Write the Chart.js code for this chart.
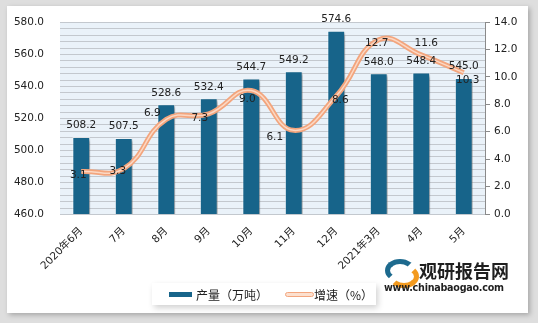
<!DOCTYPE html>
<html>
<head>
<meta charset="utf-8">
<script src="https://cdn.jsdelivr.net/npm/chart.js@4/dist/chart.umd.min.js"></script>
<style>
  body { margin: 0; width: 538px; height: 323px; background: #dedede; position: relative; overflow: hidden; font-family: "DejaVu Sans", "Noto Sans CJK SC", sans-serif; }
  #frame { position: absolute; left: 7px; top: 6px; width: 521px; height: 307px; background: #fff; box-shadow: 2px 2px 5px rgba(0,0,0,.25); }
  #wrap { position: absolute; left: 0; top: 0; width: 538px; height: 323px; }
  #legend { position: absolute; left: 152px; top: 283px; width: 224px; height: 22px; background: #fff; box-shadow: 2px 3px 6px rgba(0,0,0,.18); font: 12px "Noto Sans CJK SC", sans-serif; color: #222; }
  #legend span { position: absolute; top: 3px; white-space: nowrap; }
  .sw-bar { position: absolute; left: 17px; top: 9px; width: 23px; height: 5px; background: #17648a; }
  .sw-line { position: absolute; left: 133px; top: 9px; width: 27px; height: 3px; background: #fce0cf; border: 1px solid #f3a67e; border-radius: 3px; }
  #mark { position: absolute; left: 383px; top: 262px; width: 135px; height: 40px; }
  #mark .name { position: absolute; left: 36px; top: -5px; font: bold 18px "Noto Sans CJK SC", sans-serif; color: #1f1f1f; white-space: nowrap; }
  #mark .url { position: absolute; left: 1px; top: 20px; font: bold 9.6px "DejaVu Sans", sans-serif; letter-spacing: -0.25px; color: #1f1f1f; white-space: nowrap; }
  .logo1 { position: absolute; left: 2px; top: -3px; width: 20px; height: 13px; border: 5px solid #1d6a8e; border-bottom-color: transparent; border-right-color: transparent; border-radius: 50%; }
  .logo2 { position: absolute; left: 6px; top: 3px; width: 20px; height: 13px; border: 5px solid #f39a1e; border-top-color: transparent; border-left-color: transparent; border-radius: 50%; }
</style>
</head>
<body>
<div id="frame"></div>
<div id="wrap"><canvas id="chart" width="538" height="323"></canvas></div>
<div id="legend">
  <div class="sw-bar"></div><span style="left:44px">产量（万吨）</span>
  <div class="sw-line"></div><span style="left:162px">增速（%）</span>
</div>
<div id="mark">
  <div class="logo1"></div><div class="logo2"></div>
  <div class="name">观研报告网</div>
  <div class="url">www.chinabaogao.com</div>
</div>
<script>
const categories = ['2020年6月', '7月', '8月', '9月', '10月', '11月', '12月', '2021年3月', '4月', '5月'];
const output = [508.2, 507.5, 528.6, 532.4, 544.7, 549.2, 574.6, 548.0, 548.4, 545.0];
const growth = [3.1, 3.3, 6.9, 7.3, 9.0, 6.1, 8.6, 12.7, 11.6, 10.3];
const leftAxis = [460, 580, 20];
const rightAxis = [0, 14, 2];

// where each growth label sits relative to its point (px), as in the original
const growthLabelShift = [[-3, 4], [-6, 3], [-14, -6], [-9, 4], [-4, 9], [-19, 7], [4, 4], [-2, 3], [5, -12], [4, 8]];

const numFont = { family: '"DejaVu Sans", "Noto Sans CJK SC", sans-serif', size: 10.5 };

const stripes = {
  id: 'stripes',
  beforeDatasetsDraw(chart) {
    const { ctx, chartArea: a, scales } = chart;
    ctx.save();
    ctx.fillStyle = '#eaf2f9';
    ctx.fillRect(a.left, a.top, a.right - a.left, a.bottom - a.top);
    ctx.strokeStyle = '#c3c8ce';
    ctx.lineWidth = 1;
    for (let v = leftAxis[0]; v <= leftAxis[1]; v += 4) {
      const y = Math.round(scales.y.getPixelForValue(v)) + 0.5;
      ctx.beginPath();
      ctx.moveTo(a.left, y);
      ctx.lineTo(a.right, y);
      ctx.stroke();
    }
    ctx.restore();
  }
};

const barShadow = {
  id: 'barShadow',
  beforeDatasetDraw(chart, args) {
    if (args.index !== 0) return;
    chart.ctx.save();
    chart.ctx.shadowColor = 'rgba(0,0,0,0.35)';
    chart.ctx.shadowOffsetX = 3;
    chart.ctx.shadowOffsetY = 2;
    chart.ctx.shadowBlur = 3;
  },
  afterDatasetDraw(chart, args) {
    if (args.index === 0) chart.ctx.restore();
  }
};

const valueLabels = {
  id: 'valueLabels',
  afterDatasetsDraw(chart) {
    const ctx = chart.ctx;
    ctx.save();
    ctx.font = '10.5px "DejaVu Sans", sans-serif';
    ctx.fillStyle = '#222';
    ctx.textAlign = 'center';
    ctx.textBaseline = 'bottom';
    chart.getDatasetMeta(0).data.forEach((bar, i) => {
      ctx.fillText(output[i].toFixed(1), bar.x, bar.y - 6);
    });
    ctx.textBaseline = 'middle';
    chart.getDatasetMeta(1).data.forEach((pt, i) => {
      const [dx, dy] = growthLabelShift[i];
      ctx.fillText(growth[i].toFixed(1), pt.x + dx, pt.y + dy);
    });
    ctx.restore();
  }
};

new Chart(document.getElementById('chart'), {
  data: {
    labels: categories,
    datasets: [
      {
        type: 'bar', label: '产量（万吨）', data: output, yAxisID: 'y', order: 3,
        backgroundColor: '#17648a', borderColor: 'rgba(255,255,255,0.5)', borderWidth: 1,
        barPercentage: 0.42, categoryPercentage: 1
      },
      {
        type: 'line', label: '增速（%）', data: growth, yAxisID: 'y1', order: 2,
        borderColor: '#f3a57d', borderWidth: 5, pointRadius: 0, tension: 0.45
      },
      {
        type: 'line', label: '', data: growth, yAxisID: 'y1', order: 1,
        borderColor: '#fbd8c4', borderWidth: 1.5, pointRadius: 0, tension: 0.45
      }
    ]
  },
  options: {
    responsive: false,
    animation: false,
    layout: { padding: { left: 8, top: 22, right: 10, bottom: 0 } },
    plugins: { legend: { display: false }, tooltip: { enabled: false } },
    scales: {
      x: {
        grid: { display: false },
        border: { display: true, color: '#9a9a9a' },
        ticks: { color: '#222', font: numFont, maxRotation: 45, minRotation: 45, padding: 3 },
        afterFit: (s) => { s.height = 109; }
      },
      y: {
        position: 'left', min: leftAxis[0], max: leftAxis[1],
        grid: { display: false },
        border: { display: false },
        ticks: { stepSize: leftAxis[2], color: '#222', font: numFont, padding: 8, callback: (v) => v.toFixed(1) },
        afterFit: (s) => { s.width = 52; }
      },
      y1: {
        position: 'right', min: rightAxis[0], max: rightAxis[1],
        grid: { display: true, drawOnChartArea: false, tickLength: 5, color: '#8a8a8a' },
        border: { display: true, color: '#8a8a8a' },
        ticks: { stepSize: rightAxis[2], color: '#222', font: numFont, padding: 4, callback: (v) => v.toFixed(1) },
        afterFit: (s) => { s.width = 43; }
      }
    }
  },
  plugins: [stripes, barShadow, valueLabels]
});
</script>
</body>
</html>
